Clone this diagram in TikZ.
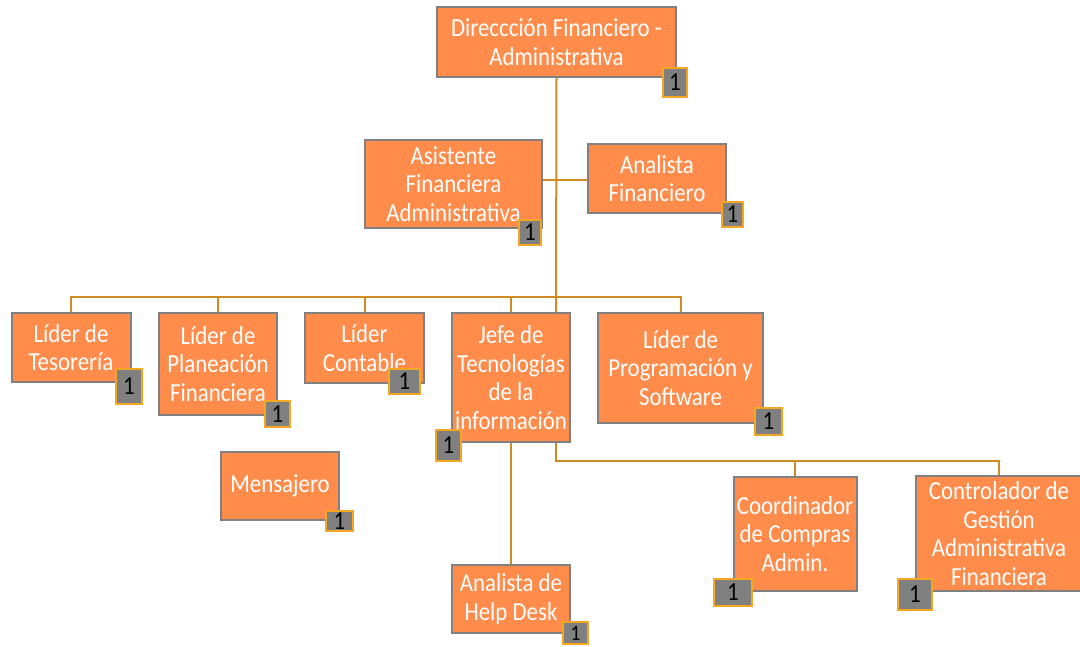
\documentclass[tikz,border=0pt]{standalone}
\usepackage{fontspec}
\setmainfont{Carlito}
\newfontfamily\narrowfont[FakeStretch=0.88]{Carlito}
\definecolor{boxfill}{RGB}{255,140,75}
\definecolor{boxline}{RGB}{128,128,128}
\definecolor{badgefill}{RGB}{128,128,128}
\definecolor{badgeline}{RGB}{245,166,35}
\definecolor{conn}{RGB}{208,140,36}
\begin{document}
\begin{tikzpicture}[x=1pt,y=-1pt,
  box/.style={draw=boxline,line width=2pt,fill=boxfill,text=white,align=center,
    inner sep=0pt,font=\narrowfont\fontsize{26}{28.5}\selectfont},
  badge/.style={draw=badgeline,line width=2pt,fill=badgefill,text=black,inner sep=0pt,
    font=\narrowfont\fontsize{26}{26}\selectfont},
  link/.style={draw=conn,line width=2pt}]
\useasboundingbox (0,0) rectangle (1080,646);
% boxes
\node[box,minimum width=239pt,minimum height=70pt] (dir) at (556.5,42) {Direccción Financiero -\\Administrativa};
\node[box,minimum width=177pt,minimum height=88pt] (asis) at (453.5,184) {Asistente\\Financiera\\Administrativa};
\node[box,minimum width=138pt,minimum height=69pt] (anal) at (657,178.5) {Analista\\Financiero};
\node[box,minimum width=119pt,minimum height=69pt] (tes) at (71,347.5) {Líder de\\Tesorería};
\node[box,minimum width=118pt,minimum height=102pt] (plan) at (218,364) {Líder de\\Planeación\\Financiera};
\node[box,minimum width=119pt,minimum height=70pt] (cont) at (364.5,348) {Líder\\Contable\hspace{8pt}};
\node[box,minimum width=118pt,minimum height=129pt] (jefe) at (511,377.5) {Jefe de\\Tecnologías\\de la\\información};
\node[box,minimum width=165pt,minimum height=110pt] (prog) at (680.5,368) {Líder de\\Programación y\\Software};
\node[box,minimum width=118pt,minimum height=68pt] (mens) at (280,486) {Mensajero};
\node[box,minimum width=123pt,minimum height=114pt] (coord) at (795,534) {Coordinador\\de Compras\\Admin.};
\node[box,minimum width=166pt,minimum height=115pt] (ctrl) at (999,533.5) {Controlador de\\Gestión\\Administrativa\\Financiera};
\node[box,minimum width=118pt,minimum height=68pt] (help) at (511,599) {Analista de\\Help Desk};
% badges
\node[badge,minimum width=24pt,minimum height=29pt] (bdir) at (675,82.5) {1};
\node[badge,minimum width=22pt,minimum height=25pt] (basis) at (530,232.5) {1};
\node[badge,minimum width=21pt,minimum height=25pt] (banal) at (732.5,214.5) {1};
\node[badge,minimum width=26pt,minimum height=35pt] (btes) at (129,386.5) {1};
\node[badge,minimum width=25pt,minimum height=26pt] (bplan) at (277.5,414) {1};
\node[badge,minimum width=31pt,minimum height=25pt] (bcont) at (404.5,381.5) {1};
\node[badge,minimum width=25pt,minimum height=31pt] (bjefe) at (448.5,445.5) {1};
\node[badge,minimum width=27pt,minimum height=27pt] (bprog) at (768.5,421.5) {1};
\node[badge,minimum width=27pt,minimum height=20pt] (bmens) at (339.5,521) {1};
\node[badge,minimum width=38pt,minimum height=27pt] (bcoord) at (733,592.5) {1};
\node[badge,minimum width=34pt,minimum height=31pt] (bctrl) at (915,594.5) {1};
\node[badge,minimum width=25pt,minimum height=22pt,font=\narrowfont\fontsize{22}{22}\selectfont] (bhelp) at (575.5,633) {1};
% connectors
\coordinate (bus) at (556,297);
\coordinate (sub) at (556,461);
\draw[link] (dir.south) -- (jefe.north -| bus);
\draw[link] (asis.east |- 0,180) -- (anal.west |- 0,180);
\draw[link] (bus) -| (tes.north);
\draw[link] (bus) -| (plan.north);
\draw[link] (bus) -| (cont.north);
\draw[link] (bus) -| (jefe.north);
\draw[link] (bus) -| (prog.north);
\draw[link] (jefe.south) -- (help.north);
\draw[link] (jefe.south -| sub) -- (sub) -| (coord.north);
\draw[link] (sub) -| (ctrl.north);
\end{tikzpicture}
\end{document}
